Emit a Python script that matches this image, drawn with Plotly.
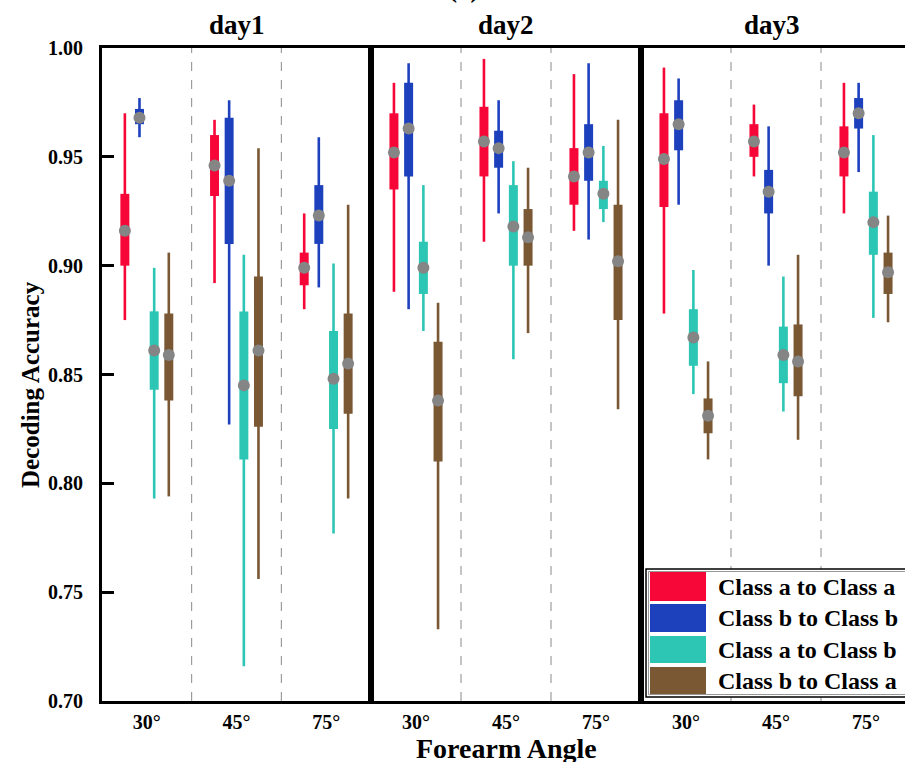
import plotly.graph_objects as go

# ---------------- data ----------------
days = ["day1", "day2", "day3"]
angles = ["30°", "45°", "75°"]
series_names = ["Class a to Class a", "Class b to Class b", "Class a to Class b", "Class b to Class a"]
series_colors = ["#F70638", "#1D40BD", "#2DC6B5", "#7A5834"]

# values ordered: day1(30,45,75), day2(30,45,75), day3(30,45,75)
aa_low  = [0.875, 0.892, 0.880, 0.888, 0.911, 0.916, 0.878, 0.941, 0.924]
aa_q1   = [0.900, 0.932, 0.891, 0.935, 0.941, 0.928, 0.927, 0.950, 0.941]
aa_med  = [0.916, 0.946, 0.899, 0.952, 0.957, 0.941, 0.949, 0.957, 0.952]
aa_q3   = [0.933, 0.960, 0.906, 0.970, 0.973, 0.954, 0.970, 0.965, 0.964]
aa_high = [0.970, 0.967, 0.924, 0.984, 0.995, 0.988, 0.991, 0.974, 0.984]

bb_low  = [0.959, 0.827, 0.890, 0.880, 0.924, 0.912, 0.928, 0.900, 0.943]
bb_q1   = [0.965, 0.910, 0.910, 0.941, 0.945, 0.939, 0.953, 0.924, 0.963]
bb_med  = [0.968, 0.939, 0.923, 0.963, 0.954, 0.952, 0.965, 0.934, 0.970]
bb_q3   = [0.972, 0.968, 0.937, 0.984, 0.962, 0.965, 0.976, 0.944, 0.977]
bb_high = [0.977, 0.976, 0.959, 0.993, 0.976, 0.993, 0.986, 0.964, 0.984]

ab_low  = [0.793, 0.716, 0.777, 0.870, 0.857, 0.920, 0.841, 0.833, 0.876]
ab_q1   = [0.843, 0.811, 0.825, 0.887, 0.900, 0.926, 0.854, 0.846, 0.905]
ab_med  = [0.861, 0.845, 0.848, 0.899, 0.918, 0.933, 0.867, 0.859, 0.920]
ab_q3   = [0.879, 0.879, 0.870, 0.911, 0.937, 0.939, 0.880, 0.872, 0.934]
ab_high = [0.899, 0.905, 0.901, 0.937, 0.948, 0.955, 0.898, 0.895, 0.960]

ba_low  = [0.794, 0.756, 0.793, 0.733, 0.869, 0.834, 0.811, 0.820, 0.874]
ba_q1   = [0.838, 0.826, 0.832, 0.810, 0.900, 0.875, 0.823, 0.840, 0.887]
ba_med  = [0.859, 0.861, 0.855, 0.838, 0.913, 0.902, 0.831, 0.856, 0.897]
ba_q3   = [0.878, 0.895, 0.878, 0.865, 0.926, 0.928, 0.839, 0.873, 0.906]
ba_high = [0.906, 0.954, 0.928, 0.883, 0.945, 0.967, 0.856, 0.905, 0.923]

y_ticks = [0.70, 0.75, 0.80, 0.85, 0.90, 0.95, 1.00]

stats = [
    (aa_low, aa_q1, aa_med, aa_q3, aa_high),
    (bb_low, bb_q1, bb_med, bb_q3, bb_high),
    (ab_low, ab_q1, ab_med, ab_q3, ab_high),
    (ba_low, ba_q1, ba_med, ba_q3, ba_high),
]

# ---------------- layout geometry ----------------
W, H = 905, 762
L, T, B = 102, 48, 61
PW = W - L
PH = H - T - B
offsets = [-0.245, -0.082, 0.082, 0.245]
FONT = "Liberation Serif, Times New Roman, serif"


def px2x(px):
    return (px - L) / PW


def px2y(py):
    return 1 - (py - T) / PH


panel_px = [(102, 371), (371, 641), (641, 905)]
panel_ranges = [[-0.5, 2.5], [-0.5, 2.5], [-0.5, -0.5 + 264 / 90]]

fig = go.Figure()

for d in range(3):
    xa = "x" if d == 0 else f"x{d+1}"
    ya = "y" if d == 0 else f"y{d+1}"
    for s in range(4):
        low, q1, med, q3, high = stats[s]
        idx = [d * 3 + g for g in range(3)]
        xs = [g + offsets[s] for g in range(3)]
        wx, wy = [], []
        for g, i in enumerate(idx):
            wx += [xs[g], xs[g], None]
            wy += [low[i], high[i], None]
        fig.add_trace(go.Scatter(x=wx, y=wy, mode="lines",
                                 line=dict(color=series_colors[s], width=2.6),
                                 xaxis=xa, yaxis=ya, showlegend=False, hoverinfo="skip"))
        fig.add_trace(go.Bar(x=xs, y=[q3[i] - q1[i] for i in idx], base=[q1[i] for i in idx],
                             width=0.1, marker=dict(color=series_colors[s], line=dict(width=0)),
                             xaxis=xa, yaxis=ya, showlegend=False, name=series_names[s]))
    for s in range(4):
        low, q1, med, q3, high = stats[s]
        idx = [d * 3 + g for g in range(3)]
        xs = [g + offsets[s] for g in range(3)]
        fig.add_trace(go.Scatter(x=xs, y=[med[i] for i in idx], mode="markers",
                                 marker=dict(color="#858585", size=12),
                                 xaxis=xa, yaxis=ya, showlegend=False))
    for sep in [0.5, 1.5]:
        fig.add_shape(type="line", xref=xa, yref=f"{ya} domain", x0=sep, x1=sep, y0=0, y1=1,
                      line=dict(color="#8a8a8a", width=1, dash="dash"), layer="below")

layout = dict(
    width=W, height=H,
    margin=dict(l=L, r=0, t=T, b=B, autoexpand=False),
    paper_bgcolor="white", plot_bgcolor="white",
    barmode="overlay", showlegend=False,
    font=dict(family=FONT, color="black"),
)

for d in range(3):
    xk = "xaxis" if d == 0 else f"xaxis{d+1}"
    yk = "yaxis" if d == 0 else f"yaxis{d+1}"
    a, b = panel_px[d]
    layout[xk] = dict(domain=[px2x(a), px2x(b)], range=panel_ranges[d],
                      anchor="y" if d == 0 else f"y{d+1}",
                      tickvals=[0, 1, 2], ticktext=angles,
                      ticks="outside", ticklen=1, tickcolor="rgba(0,0,0,0)",
                      tickfont=dict(family=FONT, size=20, weight="bold", color="black"),
                      showline=True, linecolor="black", linewidth=3, mirror=True,
                      showgrid=False, zeroline=False, fixedrange=True)
    ydict = dict(domain=[0, 1], range=[0.70, 1.00],
                 anchor="x" if d == 0 else f"x{d+1}",
                 showline=True, linecolor="black", linewidth=3,
                 mirror=(d < 2),
                 showgrid=False, zeroline=False, fixedrange=True)
    if d == 0:
        ydict.update(tickvals=y_ticks, ticktext=[f"{v:.2f}" for v in y_ticks],
                     ticks="inside", ticklen=12, tickwidth=3, tickcolor="black",
                     ticklabelstandoff=12,
                     tickfont=dict(family=FONT, size=20, weight="bold", color="black"))
    else:
        ydict.update(showticklabels=False, ticks="")
    layout[yk] = ydict

fig.update_layout(**layout)

title_font = dict(family=FONT, size=27, weight="bold", color="black")
day_centers = [236.5, 506, 772]
for d in range(3):
    fig.add_annotation(text=days[d], xref="paper", yref="paper", x=px2x(day_centers[d]), y=px2y(25),
                       xanchor="center", yanchor="middle", showarrow=False, font=title_font)
fig.add_annotation(text="(a)", xref="paper", yref="paper", x=px2x(463), y=px2y(-12),
                   xanchor="center", yanchor="middle", showarrow=False, font=title_font)
fig.add_annotation(text="Decoding Accuracy", xref="paper", yref="paper", x=px2x(30), y=px2y(385),
                   xanchor="center", yanchor="middle", textangle=-90, showarrow=False,
                   font=dict(family=FONT, size=25, weight="bold", color="black"))
fig.add_annotation(text="Forearm Angle", xref="paper", yref="paper", x=px2x(506), y=px2y(748),
                   xanchor="center", yanchor="middle", showarrow=False,
                   font=dict(family=FONT, size=28, weight="bold", color="black"))

# custom legend
fig.add_shape(type="rect", xref="paper", yref="paper", x0=px2x(646), x1=px2x(912),
              y0=px2y(697), y1=px2y(569), fillcolor="white", line=dict(color="black", width=1.5))
fig.add_shape(type="rect", xref="paper", yref="paper", x0=px2x(648.5), x1=px2x(912),
              y0=px2y(694.5), y1=px2y(571.5), fillcolor="rgba(0,0,0,0)", line=dict(color="#999999", width=1))
rows = [(572, 601), (604, 632), (636, 663), (667, 694)]
legend_font = dict(family=FONT, size=24, weight="bold", color="black")
for s in range(4):
    y0, y1 = rows[s]
    fig.add_shape(type="rect", xref="paper", yref="paper", x0=px2x(650), x1=px2x(706),
                  y0=px2y(y1), y1=px2y(y0), fillcolor=series_colors[s], line=dict(width=0))
    fig.add_annotation(text=series_names[s], xref="paper", yref="paper", x=px2x(716), y=px2y((y0 + y1) / 2),
                       xanchor="left", yanchor="middle", showarrow=False, font=legend_font)

fig.write_html("out.html", config={"displayModeBar": False},
               post_script="document.body.style.margin='0px';")
